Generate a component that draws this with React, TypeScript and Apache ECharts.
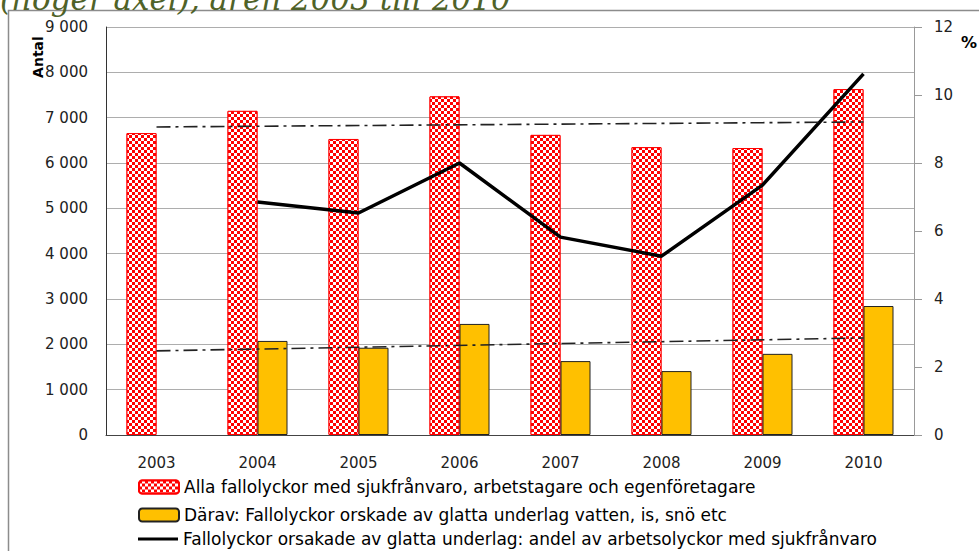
import React, { useEffect, useRef } from "react";
import * as echarts from "echarts";

const years = ["2003", "2004", "2005", "2006", "2007", "2008", "2009", "2010"];
const allFalls = [6660, 7150, 6530, 7470, 6620, 6350, 6330, 7630];
const slipperyFalls = [null, 2075, 1925, 2450, 1630, 1410, 1790, 2845];
const slipperyShare = [null, 6.85, 6.53, 8.0, 5.82, 5.26, 7.35, 10.62];
const trendAll = [[0, 6795], [7, 6905]];
const trendSlippery = [[0, 1855], [7, 2140]];
const leftTicks = { min: 0, max: 9000, interval: 1000 };
const rightTicks = { min: 0, max: 12, interval: 2 };

const nameAll = "Alla fallolyckor med sjukfrånvaro, arbetstagare och egenföretagare";
const nameSlip = "Därav: Fallolyckor orskade av glatta underlag vatten, is, snö etc";
const nameShare = "Fallolyckor orsakade av glatta underlag: andel av arbetsolyckor med sjukfrånvaro";
const titleText = "(höger axel), åren 2003 till 2010";

const FONT = "DejaVu Sans";

export default function App() {
  const ref = useRef<HTMLDivElement>(null);
  useEffect(() => {
    if (!ref.current) return;
    const chart = echarts.init(ref.current, null, { renderer: "svg" });
    const fmt = (v: number) => String(v).replace(/\B(?=(\d{3})+(?!\d))/g, " ");
    const legendBase = {
      orient: "horizontal",
      left: 138,
      padding: 0,
      itemWidth: 40,
      itemHeight: 13,
      textStyle: { fontFamily: FONT, fontSize: 17, color: "#000", lineHeight: 18 },
    };
    chart.setOption({
      animation: false,
      backgroundColor: "#fff",
      textStyle: { fontFamily: FONT },
      grid: { left: 106, right: 65, top: 27, bottom: 116, containLabel: false },
      legend: [
        { ...legendBase, top: 478, data: [nameAll] },
        { ...legendBase, top: 506, data: [nameSlip] },
        { ...legendBase, top: 530, itemHeight: 3, icon: "rect", data: [nameShare] },
      ],
      xAxis: {
        type: "category",
        data: years,
        axisLine: { lineStyle: { color: "#444", width: 1 } },
        axisTick: { show: false },
        axisLabel: { margin: 20, fontSize: 15, color: "#222", fontFamily: FONT },
      },
      yAxis: [
        {
          type: "value",
          ...leftTicks,
          axisLine: { show: true, lineStyle: { color: "#333" } },
          axisTick: { show: false },
          splitLine: { lineStyle: { color: "#ADADAD", width: 1 } },
          axisLabel: { margin: 18, fontSize: 15, color: "#222", fontFamily: FONT, formatter: fmt },
        },
        {
          type: "value",
          ...rightTicks,
          position: "right",
          axisLine: { show: true, lineStyle: { color: "#999" } },
          axisTick: { show: true, length: 8, lineStyle: { color: "#999" } },
          splitLine: { show: false },
          axisLabel: { margin: 20, fontSize: 15, color: "#222", fontFamily: FONT },
        },
      ],
      series: [
        {
          name: nameAll,
          type: "bar",
          data: allFalls,
          barWidth: 30,
          barGap: "0%",
          itemStyle: {
            color: "#FF0000",
            borderColor: "#FF0000",
            borderWidth: 1,
            decal: {
              symbol: "rect",
              symbolSize: 1,
              color: "#ffffff",
              dashArrayX: [[3, 3], [0, 3, 3, 0]],
              dashArrayY: [3, 0],
              rotation: 0,
            },
          },
        },
        {
          name: nameSlip,
          type: "bar",
          data: slipperyFalls,
          barWidth: 30,
          barGap: "0%",
          itemStyle: { color: "#FFC000", borderColor: "#222", borderWidth: 1 },
        },
        {
          name: nameShare,
          type: "line",
          yAxisIndex: 1,
          data: slipperyShare,
          symbol: "none",
          lineStyle: { color: "#000", width: 3.5 },
          itemStyle: { color: "#000" },
        },
        {
          name: "trendAll",
          type: "line",
          data: trendAll,
          symbol: "none",
          lineStyle: { color: "#222", width: 1.6, type: [14, 5, 3, 5] },
        },
        {
          name: "trendSlip",
          type: "line",
          data: trendSlippery,
          symbol: "none",
          lineStyle: { color: "#222", width: 1.6, type: [14, 5, 3, 5] },
        },
      ],
      graphic: [
        {
          type: "rect",
          shape: { x: 8.5, y: 10.5, width: 1100, height: 700 },
          style: { fill: "none", stroke: "#8c8c8c", lineWidth: 1.5 },
          silent: true,
          z: -1,
        },
        {
          type: "text",
          x: 0,
          y: 14,
          style: {
            text: titleText,
            font: "italic 31px 'DejaVu Serif'",
            fill: "#4F6228",
            verticalAlign: "bottom",
            align: "left",
          },
        },
        {
          type: "text",
          x: 38,
          y: 57,
          rotation: Math.PI / 2,
          style: {
            text: "Antal",
            font: "bold 14px 'DejaVu Sans'",
            fill: "#000",
            align: "center",
            verticalAlign: "middle",
          },
        },
        {
          type: "text",
          x: 969,
          y: 42,
          style: {
            text: "%",
            font: "bold 16px 'DejaVu Sans'",
            fill: "#000",
            align: "center",
            verticalAlign: "middle",
          },
        },
      ],
    });
    return () => chart.dispose();
  }, []);
  return (
    <div
      ref={ref}
      style={{ position: "fixed", left: 0, top: 0, width: 979, height: 551 }}
    />
  );
}
